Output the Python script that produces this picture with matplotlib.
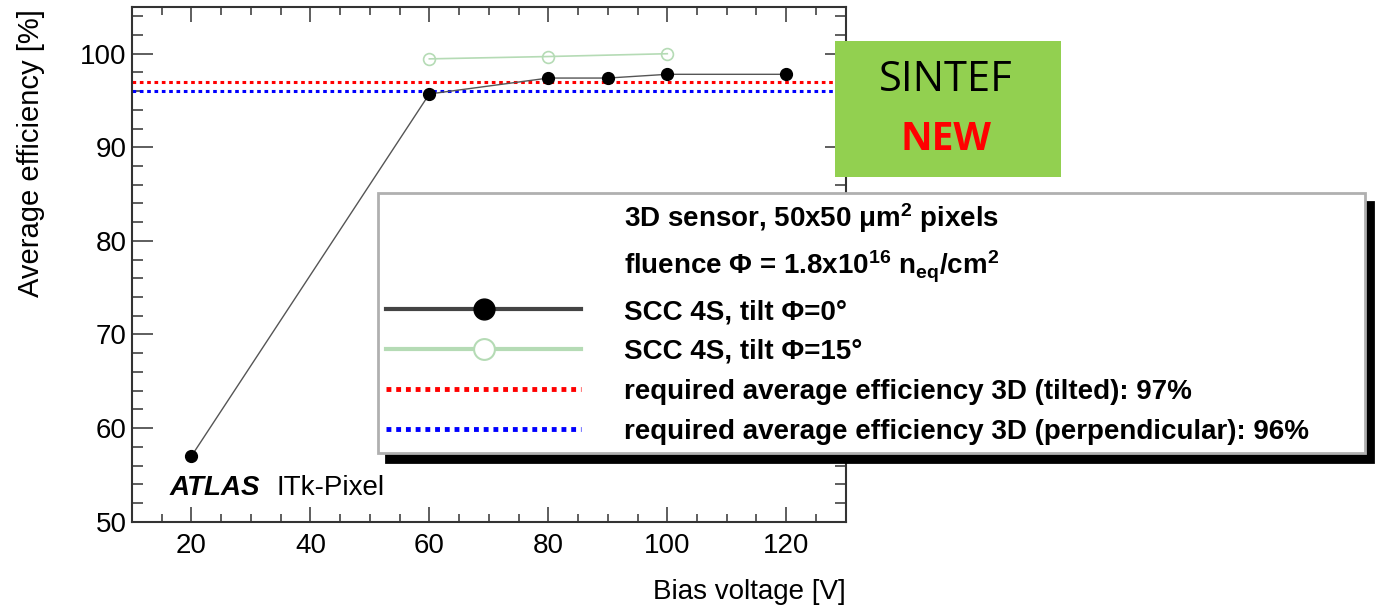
import matplotlib
matplotlib.use("Agg")
import matplotlib.pyplot as plt
from matplotlib.lines import Line2D
from matplotlib.patches import Rectangle
from matplotlib.ticker import MultipleLocator

plt.rcParams['font.family'] = ['Liberation Sans', 'DejaVu Sans']
plt.rcParams['mathtext.fontset'] = 'custom'
plt.rcParams['mathtext.rm'] = 'Liberation Sans:bold'
plt.rcParams['mathtext.it'] = 'Liberation Sans:bold'
plt.rcParams['mathtext.bf'] = 'Liberation Sans:bold'

# data
bias_tilt0 = [20, 60, 80, 90, 100, 120]
eff_tilt0 = [57.0, 95.7, 97.4, 97.4, 97.8, 97.8]
bias_tilt15 = [60, 80, 100]
eff_tilt15 = [99.45, 99.7, 100.0]
req_tilted = 97
req_perp = 96

header_lines = [r"3D sensor, 50x50 $\mu$m$^{2}$ pixels",
                r"fluence $\Phi$ = 1.8x10$^{16}$ n$_{eq}$/cm$^{2}$"]
labels = ["SCC 4S, tilt \u03a6=0\u00b0",
          "SCC 4S, tilt \u03a6=15\u00b0",
          "required average efficiency 3D (tilted): 97%",
          "required average efficiency 3D (perpendicular): 96%"]

green_line = "#b5dbb5"

fig = plt.figure(figsize=(13.83, 6.13), dpi=100)
ax = fig.add_axes([0.0954, 0.149, 0.5161, 0.8397])

ax.axhline(req_tilted, color="red", lw=2.2, ls=(0, (1.2, 1.2)), zorder=2)
ax.axhline(req_perp, color="blue", lw=2.2, ls=(0, (1.2, 1.2)), zorder=2)
ax.plot(bias_tilt15, eff_tilt15, color=green_line, lw=1.2, marker="o", ms=8.5,
        mfc="none", mec=green_line, mew=1.2, zorder=3)
ax.plot(bias_tilt0, eff_tilt0, color="#555555", lw=1, marker="o", ms=8.5,
        mfc="black", mec="black", zorder=4)

ax.set_xlim(10, 130)
ax.set_ylim(50, 105)
ax.xaxis.set_major_locator(MultipleLocator(20))
ax.xaxis.set_minor_locator(MultipleLocator(5))
ax.yaxis.set_major_locator(MultipleLocator(10))
ax.yaxis.set_minor_locator(MultipleLocator(2))
ax.tick_params(which="both", direction="in", top=True, right=True,
               width=1.1, color="#333333")
ax.tick_params(axis="x", which="major", length=11, labelsize=20, pad=8)
ax.tick_params(axis="x", which="minor", length=6)
ax.tick_params(axis="y", which="major", length=15, labelsize=20, pad=4)
ax.tick_params(axis="y", which="minor", length=8)
for sp in ax.spines.values():
    sp.set_linewidth(1.5)
    sp.set_color("#333333")

ax.set_xlabel("Bias voltage [V]", fontsize=20, loc="right")
ax.set_ylabel("Average efficiency [%]", fontsize=21, loc="top")
ax.xaxis.set_label_coords(1.0, -0.112)
ax.yaxis.set_label_coords(-0.122, 0.995)

atlas = ax.text(0.053, 0.052, "ATLAS", transform=ax.transAxes, fontsize=20,
                fontweight="bold", style="italic", va="baseline")
ax.annotate("ITk-Pixel", xy=(1, 0), xycoords=atlas, xytext=(12, 0),
            textcoords="offset points", fontsize=20, va="bottom")

handles = [Line2D([], [], ls="none"), Line2D([], [], ls="none"),
           Line2D([], [], color="#444444", lw=3, marker="o", ms=15, mfc="black", mec="black"),
           Line2D([], [], color=green_line, lw=3, marker="o", ms=15, mfc="white",
                  mec=green_line, mew=1.5),
           Line2D([], [], color="red", lw=3.5, ls=(0, (1, 1))),
           Line2D([], [], color="blue", lw=3.5, ls=(0, (1, 1)))]
leg = ax.legend(handles, header_lines + labels, loc="upper left",
                bbox_to_anchor=(0.2733, 0.261, 0.7137, 0.4241),
                bbox_transform=fig.transFigure, mode="expand", borderaxespad=0,
                prop={"family": "Liberation Sans", "weight": "bold", "size": 20},
                handlelength=7.0, handletextpad=1.55, labelspacing=0.5,
                borderpad=0.3, fancybox=False,
                shadow={"color": "black", "alpha": 1, "ox": 6, "oy": -6.5})
leg.get_frame().set_edgecolor("#b0b0b0")
leg.get_frame().set_linewidth(2)
leg.set_zorder(10)

fig.patches.append(Rectangle((835 / 1383, 1 - 177 / 613), 226 / 1383, 136 / 613,
                             transform=fig.transFigure, facecolor="#92d050",
                             edgecolor="none", zorder=20))
fig.text(946 / 1383, 1 - 80 / 613, "SINTEF", fontsize=30, family="Open Sans",
         ha="center", va="center", zorder=21)
fig.text(946 / 1383, 1 - 139 / 613, "NEW", fontsize=28, family="Open Sans",
         fontweight="bold", color="red", ha="center", va="center", zorder=21)

fig.savefig("out.png", dpi=100)
